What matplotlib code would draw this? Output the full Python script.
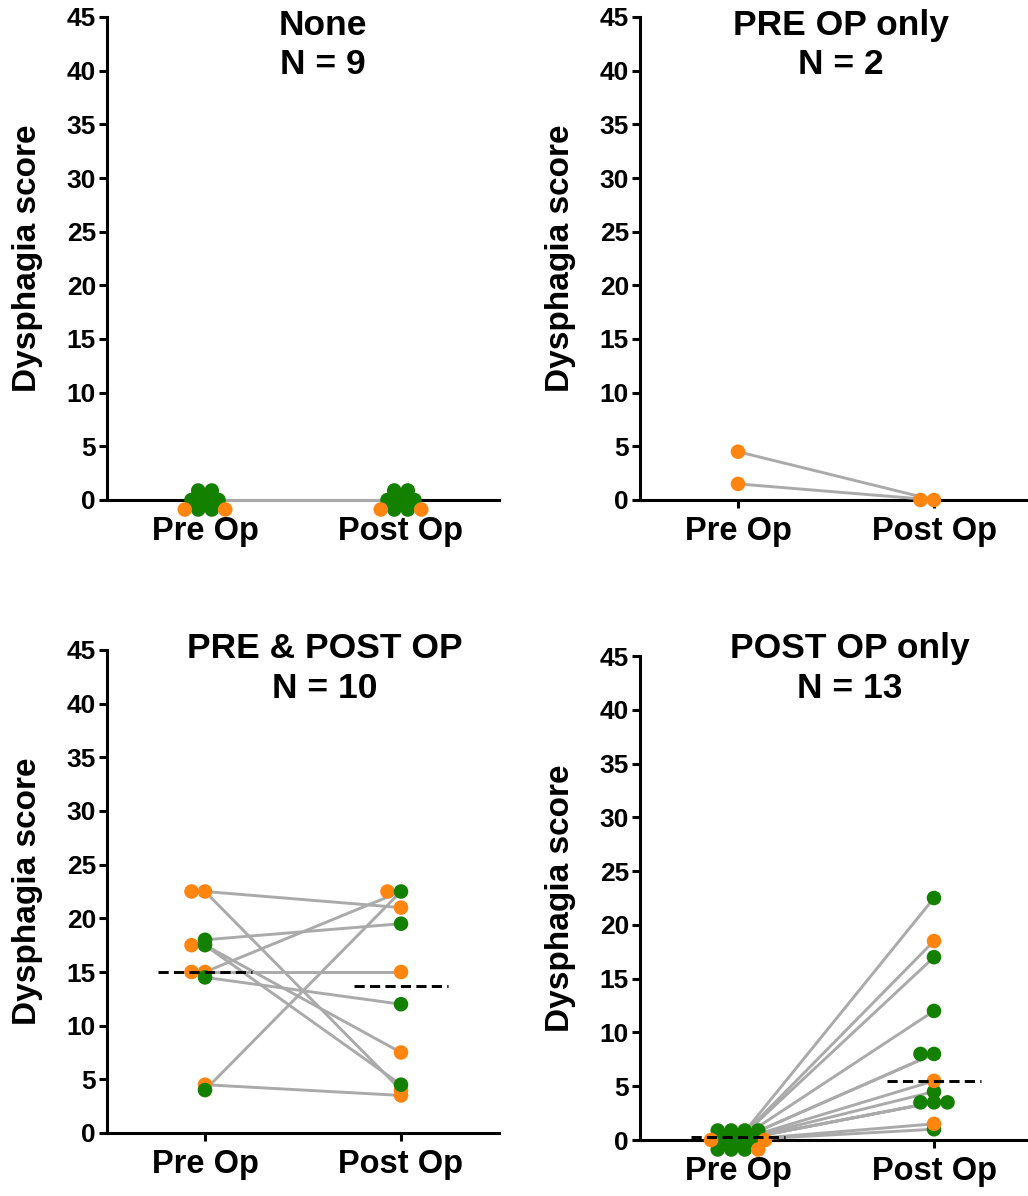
import numpy as np
import matplotlib
matplotlib.use("Agg")
import matplotlib.pyplot as plt

plt.rcParams['font.family'] = ['Liberation Sans', 'DejaVu Sans']
plt.rcParams['font.weight'] = 'bold'

GREEN = '#148000'
ORANGE = '#ff8511'
GREY = '#aaaaaa'

categories = ['Pre Op', 'Post Op']
yticks = [0, 5, 10, 15, 20, 25, 30, 35, 40, 45]
titles = ['None\nN = 9', 'PRE OP only\nN = 2', 'PRE & POST OP\nN = 10', 'POST OP only\nN = 13']

# one entry per patient: pre score, post score, colour group
none_pre = [0, 0, 0, 0, 0, 0, 0, 0, 0]
none_post = [0, 0, 0, 0, 0, 0, 0, 0, 0]
none_group = ['g', 'g', 'g', 'g', 'g', 'g', 'g', 'o', 'o']

preonly_pre = [4.5, 1.5]
preonly_post = [0, 0]
preonly_group = ['o', 'o']

both_pre = [22.5, 22.5, 17.5, 15, 15, 4.5, 18, 17.5, 14.5, 4]
both_post = [21, 4, 7.5, 15, 22.5, 3.5, 19.5, 4.5, 12, 22.5]
both_group = ['o', 'o', 'o', 'o', 'o', 'o', 'g', 'g', 'g', 'g']

postonly_pre = [0, 0, 0, 0, 0, 0, 0, 0, 0, 0, 0, 0, 0]
postonly_post = [22.5, 17, 12, 8, 8, 4.5, 3.5, 3.5, 3.5, 1, 18.5, 5.5, 1.5]
postonly_group = ['g', 'g', 'g', 'g', 'g', 'g', 'g', 'g', 'g', 'g', 'o', 'o', 'o']

# dashed centre lines (pre, post)
centre_lines = [None, None, (15.0, 13.7), (0.25, 5.5)]

panels = [
    (none_pre, none_post, none_group),
    (preonly_pre, preonly_post, preonly_group),
    (both_pre, both_post, both_group),
    (postonly_pre, postonly_post, postonly_group),
]

W, H = 1028, 1196
# axes boxes in pixels: left, top, width, height
boxes = [(107, 17, 392, 483), (640, 17, 392, 483),
         (107, 650, 392, 483), (640, 656, 392, 484)]
title_pos = [(323, 9), (841, 9), (325, 632), (850, 632)]

colours = {'g': GREEN, 'o': ORANGE}


def lattice(bias, sx=13.5, sy=9.5, w=1.6):
    slots = []
    for row in range(-3, 4):
        for col in range(-5, 6):
            x = (col + 0.5 * (row % 2)) * sx
            y = row * sy
            slots.append((x * x + (w * y) ** 2 - bias * y, x, y))
    slots.sort()
    return [(x, y) for _, x, y in slots]


LATTICE = {'g': lattice(2.0), 'o': lattice(-2.0)}


def swarm(values, groups, ppx, ppy):
    # spread identical values around their position (pixel lattice)
    used = {}
    dx = np.zeros(len(values))
    dy = np.zeros(len(values))
    order = sorted(range(len(values)), key=lambda i: groups[i] != 'g')
    for i in order:
        taken = used.setdefault(values[i], set())
        for x, y in LATTICE[groups[i]]:
            if (x, y) not in taken:
                taken.add((x, y))
                dx[i] = x / ppx
                dy[i] = y / ppy
                break
    return dx, dy


fig = plt.figure(figsize=(W / 100, H / 100), dpi=100)

for k, (pre, post, grp) in enumerate(panels):
    l, t, w, h = boxes[k]
    ax = fig.add_axes([l / W, 1 - (t + h) / H, w / W, h / H])
    ax.set_xlim(-0.5, 1.5)
    ax.set_ylim(0, 45)
    ppx = w / 2.0
    ppy = h / 45.0

    for a, b in zip(pre, post):
        ax.plot([0, 1], [a, b], color=GREY, lw=2.1, zorder=3, clip_on=False,
                solid_capstyle='butt')

    cols = [colours[g] for g in grp]
    for xpos, vals in ((0, pre), (1, post)):
        dx, dy = swarm(vals, grp, ppx, ppy)
        ax.scatter(xpos + dx, np.array(vals, float) + dy, s=110, c=cols,
                   linewidths=0, zorder=4, clip_on=False)

    if centre_lines[k] is not None:
        for xpos, m in zip((0, 1), centre_lines[k]):
            ax.plot([xpos - 0.24, xpos + 0.24], [m, m], color='black', lw=2.1,
                    dashes=(3.5, 1.8), zorder=5, clip_on=False)

    for s in ('top', 'right'):
        ax.spines[s].set_visible(False)
    for s in ('left', 'bottom'):
        ax.spines[s].set_linewidth(2.2)

    ax.set_yticks(yticks)
    ax.set_xticks([0, 1])
    ax.set_xticklabels(categories, fontsize=23.5, fontweight='bold')
    ax.tick_params(axis='y', direction='out', length=6, width=2.2,
                   labelsize=19, pad=2)
    ax.tick_params(axis='x', direction='out', length=6, width=2.2, pad=5.5)
    for lab in ax.get_yticklabels():
        lab.set_fontweight('bold')

    ax.text(-79 / w, 0.5, 'Dysphagia score', transform=ax.transAxes,
            rotation=90, ha='center', va='center', fontsize=24,
            fontweight='bold')

    tx, ty = title_pos[k]
    fig.text(tx / W, 1 - ty / H, titles[k], ha='center', va='top',
             fontsize=25.5, fontweight='bold', linespacing=1.25)

plt.savefig('out.png', dpi=100)
